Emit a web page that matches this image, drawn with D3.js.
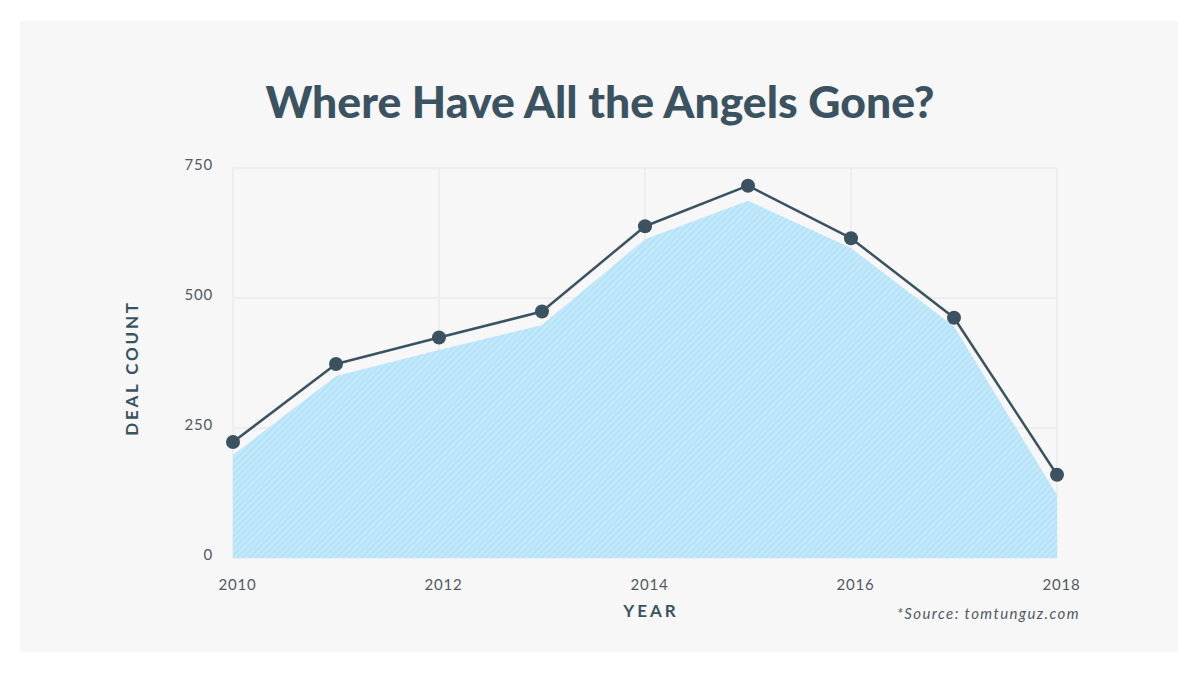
<!DOCTYPE html>
<html><head><meta charset="utf-8">
<script src="https://cdn.jsdelivr.net/npm/d3@7"></script>
<style>
html,body{margin:0;padding:0;background:#fff;}
svg{display:block;}
</style></head>
<body>
<svg id="chart" width="1200" height="675"></svg>
<script>
const years = [2010, 2011, 2012, 2013, 2014, 2015, 2016, 2017, 2018];
const dealCount = [223, 373, 424, 474, 638, 716, 615, 462, 160];
const areaValues = [198, 350, 400, 448, 613, 687, 596, 445, 121];
const xTicks = [2010, 2012, 2014, 2016, 2018];
const yTicks = [0, 250, 500, 750];
const title = "Where Have All the Angels Gone?";
const xLabel = "YEAR";
const yLabel = "DEAL COUNT";
const source = "*Source: tomtunguz.com";

const svg = d3.select("#chart");
const ink = "#3b5361";

svg.append("rect").attr("x", 20).attr("y", 21).attr("width", 1158).attr("height", 631).attr("fill", "#f7f7f7");

const defs = svg.append("defs");
const pat = defs.append("pattern").attr("id", "stripes").attr("patternUnits", "userSpaceOnUse")
  .attr("width", 4.4).attr("height", 10).attr("patternTransform", "rotate(45)");
pat.append("rect").attr("width", 4.4).attr("height", 10).attr("fill", "#b5e3f8");
pat.append("rect").attr("width", 1.8).attr("height", 10).attr("fill", "#c6eafb");

const x = d3.scaleLinear().domain([2010, 2018]).range([233, 1057]);
const y = d3.scaleLinear().domain([0, 750]).range([558, 168]);

// grid
const grid = svg.append("g");
grid.selectAll("line.v").data(xTicks).join("line")
  .attr("x1", d => x(d)).attr("x2", d => x(d)).attr("y1", y(750)).attr("y2", y(0))
  .attr("stroke", "#ebebeb").attr("stroke-width", 1.5);
grid.selectAll("line.h").data(yTicks).join("line")
  .attr("x1", x(2010)).attr("x2", x(2018)).attr("y1", d => y(d)).attr("y2", d => y(d))
  .attr("stroke", "#ebebeb").attr("stroke-width", 1.5);

// area
const area = d3.area().x((d, i) => x(years[i])).y0(y(0)).y1(d => y(d));
svg.append("path").datum(areaValues).attr("d", area).attr("fill", "url(#stripes)");

// line
const line = d3.line().x((d, i) => x(years[i])).y(d => y(d));
svg.append("path").datum(dealCount).attr("d", line).attr("fill", "none")
  .attr("stroke", ink).attr("stroke-width", 2.5).attr("stroke-linejoin", "round");
svg.selectAll("circle.dot").data(dealCount).join("circle")
  .attr("cx", (d, i) => x(years[i])).attr("cy", d => y(d)).attr("r", 7).attr("fill", ink);

// axes
const xAxis = d3.axisBottom(x).tickValues(xTicks).tickFormat(d3.format("d")).tickSize(0).tickPadding(0);
const gx = svg.append("g").attr("transform", `translate(4,${y(0)})`).call(xAxis);
gx.select(".domain").remove();
gx.selectAll("text").attr("y", 32).attr("dy", 0).attr("font-family", "Lato, sans-serif")
  .attr("font-size", 15).attr("fill", "#4f5a61").attr("letter-spacing", 0.8);

const yAxis = d3.axisLeft(y).tickValues(yTicks).tickSize(0).tickPadding(0);
const gy = svg.append("g").attr("transform", `translate(213,0)`).call(yAxis);
gy.select(".domain").remove();
gy.selectAll("text").attr("x", 0).attr("dy", "0.1em").attr("font-family", "Lato, sans-serif")
  .attr("font-size", 15).attr("fill", "#4f5a61").attr("letter-spacing", 0.8);

// title
svg.append("text").attr("x", 600).attr("y", 118).attr("text-anchor", "middle")
  .attr("font-family", "Lato, sans-serif").attr("font-weight", 900).attr("font-size", 44.5)
  .attr("fill", ink).text(title);

svg.append("text").attr("x", 651).attr("y", 617).attr("text-anchor", "middle")
  .attr("font-family", "Lato, sans-serif").attr("font-weight", 700).attr("font-size", 17)
  .attr("letter-spacing", 3).attr("fill", ink).text(xLabel);

svg.append("text").attr("transform", "translate(138,368) rotate(-90)").attr("text-anchor", "middle")
  .attr("font-family", "Lato, sans-serif").attr("font-weight", 700).attr("font-size", 17)
  .attr("letter-spacing", 2.8).attr("fill", ink).text(yLabel);

svg.append("text").attr("x", 1080).attr("y", 619).attr("text-anchor", "end")
  .attr("font-family", "Lato, sans-serif").attr("font-style", "italic").attr("font-size", 15)
  .attr("letter-spacing", 1.4).attr("fill", "#4f5a61").text(source);
</script>
</body></html>
